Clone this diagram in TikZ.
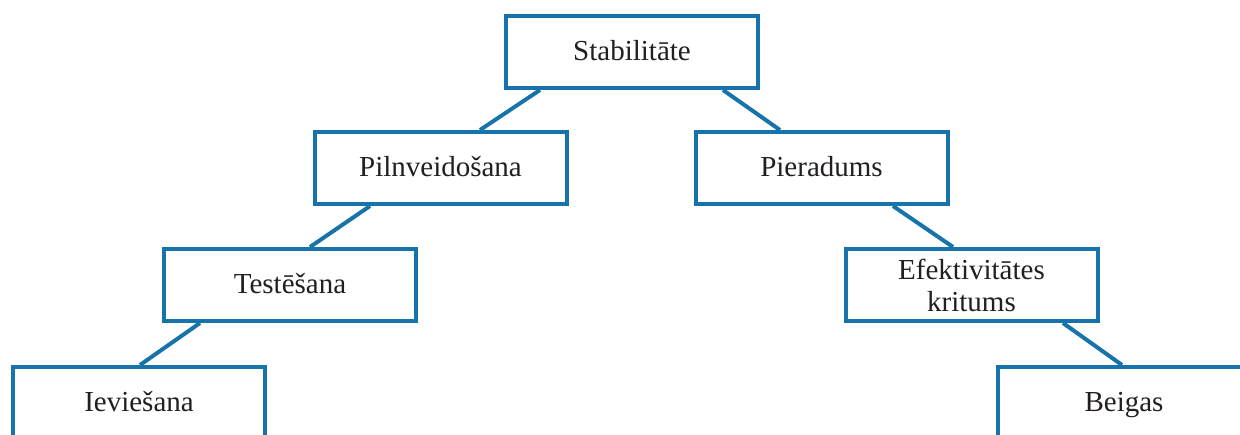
\documentclass[tikz,border=0pt]{standalone}
\usepackage{fontspec}
\setmainfont{Liberation Serif}
\definecolor{boxblue}{RGB}{23,116,170}
\definecolor{txt}{RGB}{35,31,32}
\begin{document}
\begin{tikzpicture}[x=1pt,y=-1pt,
  stagebox/.style={draw=boxblue, line width=4pt, fill=white, rectangle,
    minimum width=252pt, minimum height=72pt, inner sep=0pt,
    text=txt, align=center, font=\fontsize{29}{32}\selectfont},
  oneline/.style={text height=21pt, text depth=4pt},
  link/.style={draw=boxblue, line width=4pt}]
\useasboundingbox (0,0) rectangle (1240,434);
\node[stagebox,oneline] (stab) at (632,52) {Stabilitāte};
\node[stagebox,oneline] (pil) at (440.5,168) {Pilnveidošana};
\node[stagebox,oneline] (pier) at (821.5,168) {Pieradums};
\node[stagebox,oneline] (test) at (290,285) {Testēšana};
\node[stagebox] (efek) at (971.5,285) {Efektivitātes\\kritums};
\node[stagebox,oneline] (iev) at (139,403) {Ieviešana};
\node[stagebox,oneline] (beig) at (1124,403) {Beigas};
\draw[link] ([xshift=-92pt]stab.south) -- ([xshift=39.5pt]pil.north);
\draw[link] ([xshift=91pt]stab.south) -- ([xshift=-41.5pt]pier.north);
\draw[link] ([xshift=-70.5pt]pil.south) -- ([xshift=20pt]test.north);
\draw[link] ([xshift=71.5pt]pier.south) -- ([xshift=-18.5pt]efek.north);
\draw[link] ([xshift=-90pt]test.south) -- ([xshift=1pt]iev.north);
\draw[link] ([xshift=91.5pt]efek.south) -- ([xshift=-2pt]beig.north);
\end{tikzpicture}
\end{document}
